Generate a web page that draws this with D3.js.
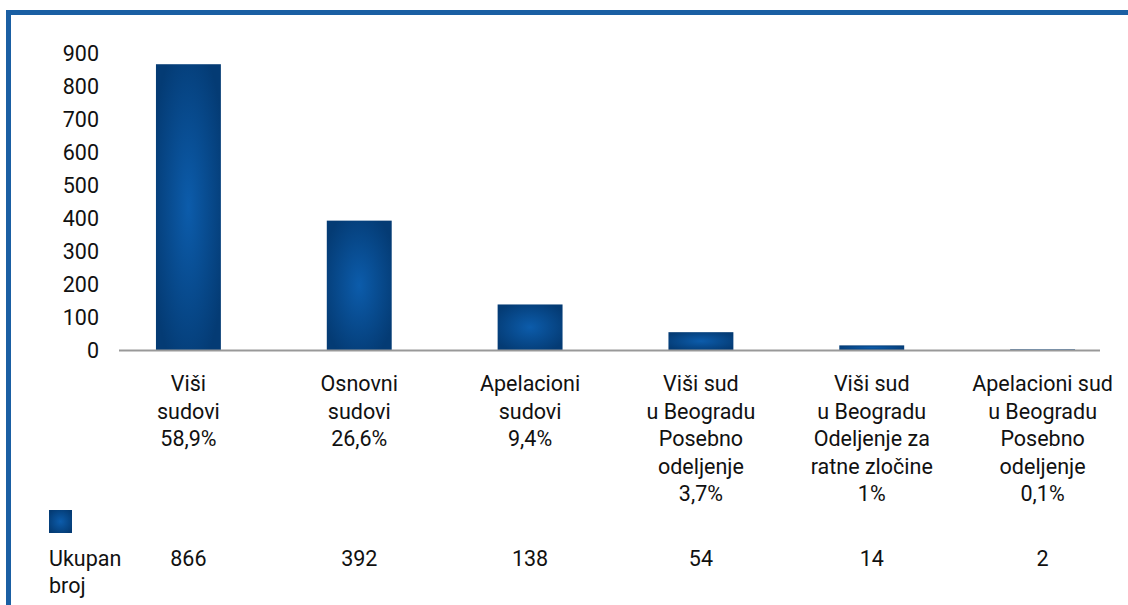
<!DOCTYPE html>
<head>
  <meta charset="utf-8">
  <script src="https://d3js.org/d3.v7.min.js"></script>
  <style>
    body { margin: 0; background: #fff; }
    text { font-family: Roboto, "DejaVu Sans", sans-serif; fill: #111; }
  </style>
</head>
<body>
<div id="root"></div>
<script>
// data
var categories = [
  ["Viši", "sudovi", "58,9%"],
  ["Osnovni", "sudovi", "26,6%"],
  ["Apelacioni", "sudovi", "9,4%"],
  ["Viši sud", "u Beogradu", "Posebno", "odeljenje", "3,7%"],
  ["Viši sud", "u Beogradu", "Odeljenje za", "ratne zločine", "1%"],
  ["Apelacioni sud", "u Beogradu", "Posebno", "odeljenje", "0,1%"]
];
var values = [866, 392, 138, 54, 14, 2];
var yTicks = [0, 100, 200, 300, 400, 500, 600, 700, 800, 900];
var seriesName = ["Ukupan", "broj"];

var W = 1128, H = 605;
var svg = d3.select("#root").append("svg")
  .attr("width", W).attr("height", H);

var defs = svg.append("defs");
var grad = defs.append("radialGradient")
  .attr("id", "barGrad")
  .attr("cx", "50%").attr("cy", "50%").attr("r", "60%");
grad.append("stop").attr("offset", "0%").attr("stop-color", "#0c5cab");
grad.append("stop").attr("offset", "100%").attr("stop-color", "#043b74");

// frame
svg.append("rect").attr("x", 6).attr("y", 10).attr("width", W).attr("height", 5).attr("fill", "#1a5fa3");
svg.append("rect").attr("x", 6).attr("y", 10).attr("width", 5).attr("height", H).attr("fill", "#1a5fa3");

var x = d3.scaleBand()
  .domain(d3.range(categories.length))
  .range([103, 1128])
  .paddingInner(0.62).paddingOuter(0.31);

var y = d3.scaleLinear().domain([0, 900]).range([350, 53]);

var fs = "21.5px";

// y tick labels (no axis line)
svg.append("g").selectAll("text")
  .data(yTicks).enter().append("text")
  .attr("x", 99).attr("y", function(d){ return y(d); })
  .attr("dy", "0.36em")
  .attr("text-anchor", "end")
  .style("font-size", fs)
  .text(function(d){ return d; });

// bars
svg.append("g").selectAll("rect")
  .data(values).enter().append("rect")
  .attr("x", function(d, i){ return x(i); })
  .attr("width", x.bandwidth())
  .attr("y", function(d){ return y(d); })
  .attr("height", function(d){ return y(0) - y(d); })
  .attr("fill", "url(#barGrad)");

// baseline
svg.append("line")
  .attr("x1", 119).attr("x2", 1100)
  .attr("y1", y(0) + 0.5).attr("y2", y(0) + 0.5)
  .attr("stroke", "#999").attr("stroke-width", 2);

// category labels
var cat = svg.append("g").selectAll("text")
  .data(categories).enter().append("text")
  .attr("text-anchor", "middle")
  .style("font-size", fs)
  .attr("transform", function(d, i){ return "translate(" + (x(i) + x.bandwidth() / 2) + ",391)"; });
cat.selectAll("tspan")
  .data(function(d){ return d; }).enter().append("tspan")
  .attr("x", 0)
  .attr("y", function(d, i){ return i * 27.5; })
  .text(function(d){ return d; });

// legend / data table
svg.append("rect").attr("x", 49).attr("y", 510).attr("width", 23).attr("height", 23)
  .attr("fill", "url(#barGrad)");
svg.append("text").attr("x", 49).attr("y", 566).style("font-size", fs)
  .selectAll("tspan").data(seriesName).enter().append("tspan")
  .attr("x", 49).attr("dy", function(d, i){ return i ? 27 : 0; })
  .text(function(d){ return d; });

svg.append("g").selectAll("text")
  .data(values).enter().append("text")
  .attr("x", function(d, i){ return x(i) + x.bandwidth() / 2; })
  .attr("y", 566)
  .attr("text-anchor", "middle")
  .style("font-size", fs)
  .text(function(d){ return d; });
</script>
</body>
